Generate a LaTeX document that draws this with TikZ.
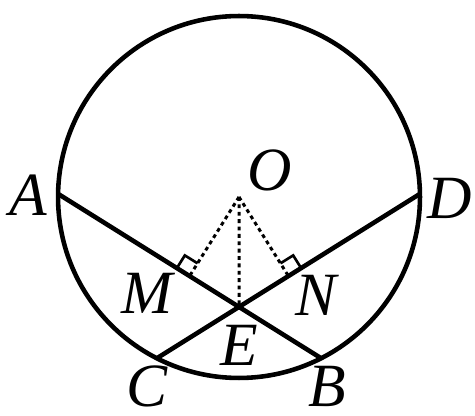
\documentclass[tikz,border=0pt]{standalone}
\usepackage{fontspec}
\setmainfont{Liberation Serif}
\usetikzlibrary{calc}

\begin{document}
\begin{tikzpicture}[
    x=0.02cm, y=0.02cm,
    edge/.style={line width=2.6pt},
    aux/.style={line width=1.7pt, dash pattern=on 2.2pt off 2pt},
    rightmark/.style={line width=1.5pt},
    lbl/.style={inner sep=0pt, font=\fontsize{35}{35}\selectfont\itshape}
]
\useasboundingbox (0,0) rectangle (475,415);

% circle and points on it
\coordinate (O) at (239,218);
\coordinate (A) at ($(O)+(179:181)$);
\coordinate (D) at ($(O)+(1:181)$);
\coordinate (B) at ($(O)+(-63:181)$);
\coordinate (C) at ($(O)+(-117:181)$);
\coordinate (E) at (intersection of A--B and C--D);
\coordinate (M) at ($(A)!(O)!(B)$);
\coordinate (N) at ($(D)!(O)!(C)$);

\draw[edge] (O) circle[radius=3.62cm];
\draw[edge] (A) -- (B);
\draw[edge] (D) -- (C);

\draw[aux] (O) -- (M);
\draw[aux] (O) -- (N);
\draw[aux] (O) -- (E);

% right angle marks
\coordinate (Ma) at ($(M)!0.3cm!(A)$);
\coordinate (Mo) at ($(M)!0.3cm!(O)$);
\draw[rightmark] (Ma) -- ($(Ma)+(Mo)-(M)$) -- (Mo);
\coordinate (Nd) at ($(N)!0.3cm!(D)$);
\coordinate (No) at ($(N)!0.3cm!(O)$);
\draw[rightmark] (Nd) -- ($(Nd)+(No)-(N)$) -- (No);

\node[lbl] (lA) at (28,220) {A};
\node[lbl] (lD) at (450,217) {D};
\node[lbl] (lO) at (270,245) {O};
\node[lbl] (lM) at (147,122) {M};
\node[lbl] (lN) at (316,120) {N};
\node[lbl] (lE) at (239,70) {E};
\node[lbl] (lC) at (147,29) {C};
\node[lbl] (lB) at (327,29) {B};
\end{tikzpicture}
\end{document}
